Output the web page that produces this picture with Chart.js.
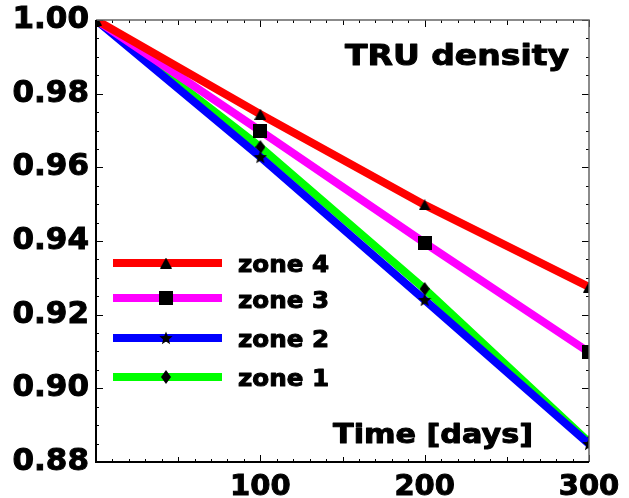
<!DOCTYPE html>
<html>
<head>
<meta charset="utf-8">
<script src="https://cdn.jsdelivr.net/npm/chart.js@4.4.0/dist/chart.umd.min.js"></script>
<style>
  html, body { margin: 0; padding: 0; background: #fff; }
</style>
</head>
<body>
<canvas id="chart" width="629" height="498"></canvas>
<script>
// data
var days = [0, 100, 200, 300];
var zone4 = [1.0, 0.9744, 0.9498, 0.9275];
var zone3 = [1.0, 0.9699, 0.9395, 0.9098];
var zone2 = [1.0, 0.9628, 0.9240, 0.8849];
var zone1 = [1.0, 0.9655, 0.9270, 0.8854];
var zoneNames = ['zone 4', 'zone 3', 'zone 2', 'zone 1'];
var xTickLabels = [100, 200, 300];
var yTickLabels = [0.88, 0.90, 0.92, 0.94, 0.96, 0.98, 1.00];

var FONT = '"DejaVu Sans", sans-serif';

// black marker glyphs
function makeMarker(w, h, draw) {
    var c = document.createElement('canvas');
    c.width = w; c.height = h;
    var g = c.getContext('2d');
    g.fillStyle = '#000';
    g.beginPath();
    draw(g, w, h);
    g.closePath();
    g.fill();
    return c;
}
var triangle = makeMarker(12, 11, function(g, w, h) {
    g.moveTo(w / 2, 0); g.lineTo(w, h); g.lineTo(0, h);
});
var square = makeMarker(14, 14, function(g, w, h) {
    g.rect(0, 0, w, h);
});
var star = makeMarker(14, 14, function(g, w, h) {
    for (var i = 0; i < 10; i++) {
        var r = i % 2 === 0 ? 7 : 3;
        var ang = -Math.PI / 2 + i * Math.PI / 5;
        var px = w / 2 + r * Math.cos(ang), py = h / 2 + 0.5 + r * Math.sin(ang);
        if (i === 0) g.moveTo(px, py); else g.lineTo(px, py);
    }
});
var diamond = makeMarker(10, 14, function(g, w, h) {
    g.moveTo(w / 2, 0); g.lineTo(w, h / 2); g.lineTo(w / 2, h); g.lineTo(0, h / 2);
});

var colors = ['#ff0000', '#ff00ff', '#0000ff', '#00ff00'];
var markers = [triangle, square, star, diamond];
var series = [zone4, zone3, zone2, zone1];

// heavy text stretched sideways to the reference's wide lettering
function wideText(ctx, text, x, y, size, width) {
    ctx.save();
    ctx.font = 'bold ' + size + 'px ' + FONT;
    ctx.textBaseline = 'alphabetic';
    ctx.textAlign = 'left';
    var w = ctx.measureText(text).width;
    ctx.translate(x, y);
    ctx.scale(width / w, 1);
    ctx.fillStyle = '#000';
    ctx.strokeStyle = '#000';
    ctx.lineWidth = 1;
    ctx.lineJoin = 'round';
    ctx.fillText(text, 0, 0);
    ctx.strokeText(text, 0, 0);
    ctx.restore();
}

var frameTicks = {
    id: 'frameTicks',
    afterDatasetsDraw: function(chart) {
        var ctx = chart.ctx, a = chart.chartArea;
        var xs = chart.scales.x, ys = chart.scales.y;
        ctx.save();
        ctx.strokeStyle = '#000';
        ctx.lineWidth = 1;
        ctx.beginPath();
        for (var v = 0; v <= 300; v += 10) {
            var px = Math.round(xs.getPixelForValue(v)) + 0.5;
            var len = v % 100 === 0 ? 7 : (v % 50 === 0 ? 5 : 3);
            ctx.moveTo(px, a.bottom); ctx.lineTo(px, a.bottom - len);
            ctx.moveTo(px, a.top); ctx.lineTo(px, a.top + len);
        }
        for (var k = 0; k <= 24; k++) {
            var py = Math.round(ys.getPixelForValue(0.88 + k * 0.005)) + 0.5;
            var ln = k % 4 === 0 ? 7 : 3;
            ctx.moveTo(a.left, py); ctx.lineTo(a.left + ln, py);
            ctx.moveTo(a.right, py); ctx.lineTo(a.right - ln, py);
        }
        ctx.stroke();

        // frame: dark left/bottom, grey top/right
        ctx.strokeStyle = '#666';
        ctx.lineWidth = 1.5;
        ctx.beginPath();
        ctx.moveTo(a.left, a.top); ctx.lineTo(a.right, a.top); ctx.lineTo(a.right, a.bottom);
        ctx.stroke();
        ctx.strokeStyle = '#000';
        ctx.lineWidth = 2;
        ctx.beginPath();
        ctx.moveTo(a.left, a.top); ctx.lineTo(a.left, a.bottom); ctx.lineTo(a.right, a.bottom);
        ctx.stroke();
        ctx.restore();
    },
    afterDraw: function(chart) {
        var ctx = chart.ctx;
        wideText(ctx, 'TRU density', 345, 65, 28, 224);
        wideText(ctx, 'Time [days]', 333, 443, 27, 200);

        // legend: coloured bar with the marker in the middle
        var rows = [263, 298, 338, 377];
        var base = [272, 308, 347, 386];
        chart.data.datasets.forEach(function(ds, i) {
            ctx.save();
            ctx.fillStyle = ds.borderColor;
            ctx.fillRect(113, rows[i] - 4, 109, 8);
            var m = ds.pointStyle;
            ctx.drawImage(m, 166 - m.width / 2, rows[i] - m.height / 2);
            ctx.restore();
            wideText(ctx, ds.label, 238, base[i], 23, 91);
        });
    }
};

var ctx = document.getElementById('chart').getContext('2d');
var chart = new Chart(ctx, {
    type: 'line',
    data: {
        datasets: series.map(function(vals, i) {
            return {
                label: zoneNames[i],
                data: days.map(function(d, j) { return { x: d, y: vals[j] }; }),
                borderColor: colors[i],
                backgroundColor: '#000',
                borderWidth: 8,
                pointStyle: markers[i],
                pointRadius: 6,
                tension: 0,
                fill: false
            };
        })
    },
    options: {
        responsive: false,
        animation: false,
        layout: { padding: { top: 20, right: 40, left: 0, bottom: 0 } },
        plugins: { legend: { display: false }, tooltip: { enabled: false } },
        scales: {
            x: {
                type: 'linear',
                min: 0,
                max: 300,
                afterBuildTicks: function(s) {
                    s.ticks = xTickLabels.map(function(v) { return { value: v }; });
                },
                afterFit: function(s) {
                    s.height = 36;
                    s.paddingLeft = 0;
                    s.paddingRight = 0;
                },
                grid: { display: false, drawTicks: false },
                border: { display: false },
                ticks: {
                    padding: 8,
                    color: '#000',
                    maxRotation: 0,
                    textStrokeColor: '#000',
                    textStrokeWidth: 1,
                    font: { family: FONT, size: 29, weight: 'bold' }
                }
            },
            y: {
                min: 0.88,
                max: 1.0,
                afterBuildTicks: function(s) {
                    s.ticks = yTickLabels.map(function(v) { return { value: v }; });
                },
                afterFit: function(s) {
                    s.width = 96;
                    s.paddingTop = 0;
                    s.paddingBottom = 0;
                },
                grid: { display: false, drawTicks: false },
                border: { display: false },
                ticks: {
                    padding: 7,
                    color: '#000',
                    textStrokeColor: '#000',
                    textStrokeWidth: 1,
                    callback: function(v) { return v.toFixed(2); },
                    font: { family: FONT, size: 31, weight: 'bold' }
                }
            }
        }
    },
    plugins: [frameTicks]
});
</script>
</body>
</html>
